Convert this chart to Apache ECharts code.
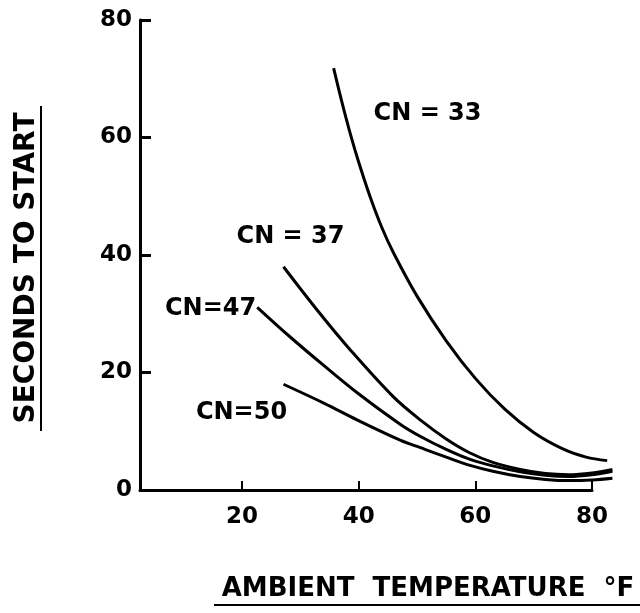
<!DOCTYPE html>
<html>
<head>
<meta charset="utf-8">
<script src="https://cdn.jsdelivr.net/npm/echarts@6/dist/echarts.min.js"></script>
<style>
html,body{margin:0;padding:0;background:#fff;}
#chart{width:640px;height:613px;}
</style>
</head>
<body>
<div id="chart"></div>
<script>
// ---- data ----
const xTickValues = [20, 40, 60, 80];
const seriesNames = ['CN = 33', 'CN = 37', 'CN=47', 'CN=50'];

const cn33 = [[35.7,71.8],[37.0,66.5],[38.6,60.5],[40.0,55.8],[42.0,49.8],[44.0,44.6],[46.0,40.3],[50.0,33.0],[55.0,25.4],[60.0,19.0],[65.0,13.8],[70.0,9.8],[75.0,7.0],[79.0,5.6],[82.6,5.0]];
const cn37 = [[27.1,38.0],[32.9,30.6],[38.6,23.8],[46.0,15.8],[50.6,11.9],[55.0,8.7],[59.1,6.3],[63.0,4.7],[67.7,3.5],[72.0,2.8],[76.0,2.6],[80.0,2.9],[83.5,3.5]];
const cn47 = [[22.6,31.1],[28.3,26.0],[34.0,21.2],[39.8,16.5],[47.1,11.2],[50.6,9.1],[55.0,6.9],[59.1,5.2],[63.0,4.1],[67.7,3.1],[72.0,2.5],[76.0,2.3],[80.0,2.6],[83.5,3.2]];
const cn50 = [[27.1,18.0],[34.0,14.8],[39.8,11.9],[47.1,8.5],[50.6,7.2],[55.0,5.6],[59.1,4.2],[63.0,3.2],[67.7,2.3],[72.0,1.8],[76.0,1.6],[80.0,1.7],[83.5,2.0]];

// label anchors (data units)
const labelAnchors = [[51.8,64.0],[28.3,43.1],[14.6,30.8],[19.9,13.1]];

const xTitle = 'AMBIENT  TEMPERATURE  °F';
const yTitle = 'SECONDS TO START';

// ---- chart ----
const chart = echarts.init(document.getElementById('chart'), null, {renderer:'canvas'});
const FONT = 'DejaVu Sans';
const allSeries = [cn33, cn37, cn47, cn50];

// same scale on both grids: visible axis ends at 80, plotting grid extends to 84
const X_MIN = 2.5, X_AXIS_MAX = 80, X_PLOT_MAX = 84;
const LEFT = 140, AXIS_RIGHT_PX = 592;
const pxPerUnit = (AXIS_RIGHT_PX - LEFT) / (X_AXIS_MAX - X_MIN);
const plotRight = 640 - (LEFT + (X_PLOT_MAX - X_MIN) * pxPerUnit);

const option = {
  animation: false,
  backgroundColor: '#ffffff',
  grid: [
    {left: LEFT, right: 640 - AXIS_RIGHT_PX, top: 20, bottom: 123, containLabel: false},
    {left: LEFT, right: plotRight, top: 20, bottom: 123, containLabel: false}
  ],
  xAxis: [{
    type: 'value', gridIndex: 0, min: X_MIN, max: X_AXIS_MAX,
    axisLine: {show: true, onZero: false, lineStyle: {color: '#000', width: 3}},
    axisTick: {show: true, inside: true, length: 9, lineStyle: {color: '#000', width: 2}, customValues: xTickValues},
    axisLabel: {show: true, margin: 16, color: '#000', fontFamily: FONT, fontSize: 23, fontWeight: 'bold', customValues: xTickValues},
    splitLine: {show: false}
  }, {
    type: 'value', gridIndex: 1, min: X_MIN, max: X_PLOT_MAX,
    show: false
  }],
  yAxis: [{
    type: 'value', gridIndex: 0, min: 0, max: 80, interval: 20,
    axisLine: {show: true, onZero: false, lineStyle: {color: '#000', width: 3}},
    axisTick: {show: true, inside: true, length: 11, lineStyle: {color: '#000', width: 3}},
    axisLabel: {show: true, margin: 8, color: '#000', fontFamily: FONT, fontSize: 23, fontWeight: 'bold'},
    splitLine: {show: false}
  }, {
    type: 'value', gridIndex: 1, min: 0, max: 80, interval: 20, show: false
  }],
  series: allSeries.map((d, i) => ({
    type: 'line',
    name: seriesNames[i],
    xAxisIndex: 1, yAxisIndex: 1,
    data: d,
    smooth: 0.35,
    showSymbol: false,
    symbol: 'none',
    lineStyle: {color: '#000', width: 3},
    markPoint: {
      symbol: 'circle', symbolSize: 0,
      itemStyle: {color: 'transparent'},
      data: [{coord: labelAnchors[i]}],
      label: {show: true, position: 'inside', formatter: seriesNames[i], color: '#000',
              fontFamily: FONT, fontSize: 24, fontWeight: 'bold'}
    }
  })),
  graphic: [
    {type: 'text', x: 27, y: 268, rotation: Math.PI/2,
     style: {text: yTitle, fill: '#000', font: 'bold 28px "DejaVu Sans"', align: 'center', verticalAlign: 'middle'}},
    {type: 'line', shape: {x1: 41, y1: 106, x2: 41, y2: 431}, style: {stroke: '#000', lineWidth: 2}},
    {type: 'text', x: 428, y: 589,
     style: {text: xTitle, fill: '#000', font: 'bold 26px "DejaVu Sans"', align: 'center', verticalAlign: 'middle'}},
    {type: 'line', shape: {x1: 214, y1: 605, x2: 640, y2: 605}, style: {stroke: '#000', lineWidth: 2}}
  ]
};
chart.setOption(option);
</script>
</body>
</html>
